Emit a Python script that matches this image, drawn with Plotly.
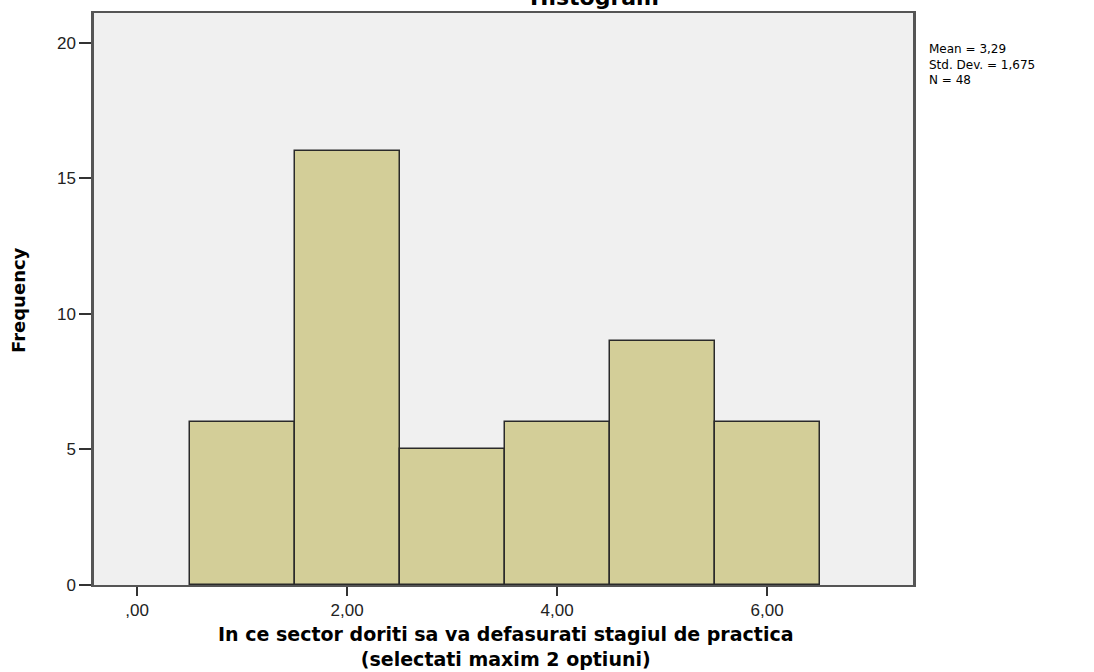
import plotly.graph_objects as go

categories = [1, 2, 3, 4, 5, 6]
frequencies = [6, 16, 5, 6, 9, 6]
x_tick_vals = [0, 2, 4, 6]
x_tick_text = [",00", "2,00", "4,00", "6,00"]
y_tick_vals = [0, 5, 10, 15, 20]
stats_lines = ["Mean = 3,29", "Std. Dev. = 1,675", "N = 48"]
x_title_lines = ["In ce sector doriti sa va defasurati stagiul de practica", "(selectati maxim 2 optiuni)"]

W, H = 1094, 672
L, R, T, B = 94, 181, 13, 87
PW, PH = W - L - R, H - T - B

def px(x):
    return (x - L) / PW

def py(y):
    return (H - B - y) / PH

fig = go.Figure()
fig.add_trace(go.Bar(
    x=categories, y=frequencies, width=1,
    marker=dict(color="#D3CE98", line=dict(color="#2a2a2a", width=1.5)),
    showlegend=False, hoverinfo="skip",
))

axis_font = dict(family="Liberation Sans, Arial", size=17, color="#222")
fig.update_layout(
    width=W, height=H,
    margin=dict(l=L, r=R, t=T, b=B),
    paper_bgcolor="white", plot_bgcolor="#F0F0F0",
    bargap=0,
    xaxis=dict(range=[-0.41, 7.39], tickvals=x_tick_vals, ticktext=x_tick_text,
               ticks="outside", ticklen=9, tickwidth=2, tickcolor="#333",
               showgrid=False, zeroline=False, showline=True, linecolor="#555",
               linewidth=2, mirror=True, tickfont=axis_font),
    yaxis=dict(range=[0, 21.1], tickvals=y_tick_vals,
               ticks="outside", ticklen=12, tickwidth=1.5, tickcolor="#333",
               showgrid=False, zeroline=False, showline=True, linecolor="#555",
               linewidth=2.5, mirror=True, tickfont=axis_font),
)

fig.add_annotation(text="<b>" + "<br>".join(x_title_lines) + "</b>", xref="paper", yref="paper",
                   x=px(506), y=py(646), xanchor="center", yanchor="middle",
                   showarrow=False,
                   font=dict(family="DejaVu Sans, Liberation Sans", size=19, color="black"))
fig.add_annotation(text="<b>Frequency</b>", xref="paper", yref="paper", x=px(18), y=py(300),
                   xanchor="center", yanchor="middle",
                   textangle=-90, showarrow=False,
                   font=dict(family="DejaVu Sans, Liberation Sans", size=18, color="black"))
fig.add_annotation(text="<b>Histogram</b>", xref="paper", yref="paper", x=px(594), y=1.0,
                   xanchor="center", yanchor="bottom", yshift=1, showarrow=False,
                   font=dict(family="DejaVu Sans, Liberation Sans", size=22, color="black"))
fig.add_annotation(text="<br>".join(stats_lines), xref="paper", yref="paper", x=px(927), y=py(40),
                   xanchor="left", yanchor="top", align="left", showarrow=False,
                   font=dict(family="DejaVu Sans, Liberation Sans", size=12, color="black"))

fig.write_html("out.html", config={"displayModeBar": False},
               post_script="document.body.style.margin='0px';")
